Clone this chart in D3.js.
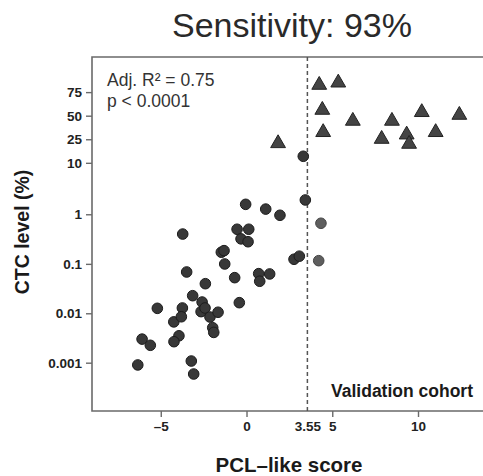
<!DOCTYPE html>
<html>
<head>
<meta charset="utf-8">
<script src="https://cdn.jsdelivr.net/npm/d3@7"></script>
<style>
  html, body { margin: 0; padding: 0; background: #fff; }
  svg { display: block; font-family: "Liberation Sans", Arial, Helvetica, sans-serif; }
</style>
</head>
<body>
<div id="chart"></div>
<script>
// PCL-like score vs CTC level (%), validation cohort
const cutoff = 3.55;

// Patients below the detection threshold (circles)
const circleScore = [-6.34, -6.09, -5.61, -5.20, -3.72, -3.49, -4.24, -3.74, -3.80, -3.94,
  -4.23, -3.22, -3.08, -3.14, -2.40, -2.59, -2.65, -2.42, -2.13, -1.66,
  -1.97, -1.91, -1.47, -1.31, -1.27, -0.69, -0.42, -0.05, -0.55, 0.13,
  -0.32, 0.09, 1.12, 1.95, 3.43, 2.77, 3.08, 0.71, 1.35, 0.77, 3.31];
const circleCTC = [0.0009, 0.003, 0.00225, 0.0126, 0.40, 0.0685, 0.0067, 0.0128, 0.0085, 0.0035,
  0.00266, 0.00108, 0.00059, 0.0227, 0.0397, 0.0169, 0.0108, 0.0128, 0.0084, 0.0105,
  0.0051, 0.0041, 0.172, 0.185, 0.0995, 0.0526, 0.0164, 1.58, 0.50, 0.50,
  0.32, 0.28, 1.27, 0.955, 1.93, 0.124, 0.143, 0.0634, 0.0625, 0.0445, 13.1];

// Circles scored above the cut-off (lighter)
const missScore = [4.34, 4.21];
const missCTC = [0.66, 0.116];

// Patients detected (triangles)
const triScore = [1.84, 4.24, 5.35, 4.42, 4.47, 6.20, 8.48, 7.88, 9.34, 9.48, 10.22, 11.03, 12.41];
const triCTC = [21.6, 80.7, 82.3, 56.6, 31.6, 43.9, 43.9, 25.2, 29.2, 21.1, 54.0, 31.6, 50.8];

const xTicks = [-5, 0, 3.55, 5, 10];
const xTickLabels = ["\u20135", "0", "3.55", "5", "10"];
const yTicks = [0.001, 0.01, 0.1, 1, 10, 25, 50, 75];
const yTickLabels = ["0.001", "0.01", "0.1", "1", "10", "25", "50", "75"];

const W = 483, H = 476;
const pLeft = 92, pRight = 483, pTop = 57, pBottom = 411;

// logit transform of a percentage
const logit = p => Math.log10((p / 100) / (1 - p / 100));

const x = d3.scaleLinear().domain([-9.01, 13.79]).range([pLeft, pRight]);
const yL = d3.scaleLinear().domain([-5.978, 1.188]).range([pBottom, pTop]);
const y = p => yL(logit(p));

const svg = d3.select("#chart").append("svg").attr("width", W).attr("height", H);

// frame: left, top, bottom
svg.append("path")
  .attr("d", `M${pRight},${pTop}H${pLeft}V${pBottom}H${pRight}`)
  .attr("fill", "none").attr("stroke", "#6a6a6a").attr("stroke-width", 1.6);

// axes
const xAxis = svg.append("g").attr("transform", `translate(0,${pBottom})`)
  .call(d3.axisBottom(x).tickValues(xTicks).tickSize(6).tickPadding(4)
    .tickFormat((d, i) => xTickLabels[i]));
const yAxis = svg.append("g").attr("transform", `translate(${pLeft},0)`)
  .call(d3.axisLeft(yL).tickValues(yTicks.map(logit)).tickSize(6).tickPadding(4)
    .tickFormat((d, i) => yTickLabels[i]));
[xAxis, yAxis].forEach(g => {
  g.select(".domain").remove();
  g.selectAll(".tick line").attr("stroke", "#6a6a6a").attr("stroke-width", 1.4);
  g.selectAll(".tick text").attr("fill", "#222").attr("font-size", 13.5)
    .attr("font-weight", "bold").attr("font-family", "Liberation Sans, Arial, sans-serif");
});
xAxis.selectAll(".tick").filter(d => d === 3.55).select("line").remove();

// cut-off line
svg.append("line")
  .attr("x1", x(cutoff)).attr("x2", x(cutoff))
  .attr("y1", pTop).attr("y2", pBottom)
  .attr("stroke", "#555").attr("stroke-width", 1.5)
  .attr("stroke-dasharray", "4,3");

// points
const tri = d3.symbol().type(d3.symbolTriangle).size(95);
svg.append("g").selectAll("path")
  .data(triScore.map((s, i) => [s, triCTC[i]]))
  .join("path")
  .attr("d", tri)
  .attr("transform", d => `translate(${x(d[0])},${y(d[1])})`)
  .attr("fill", "#444").attr("stroke", "#222").attr("stroke-width", 1);

svg.append("g").selectAll("circle")
  .data(circleScore.map((s, i) => [s, circleCTC[i]]))
  .join("circle")
  .attr("cx", d => x(d[0])).attr("cy", d => y(d[1])).attr("r", 5.3)
  .attr("fill", "#383838").attr("stroke", "#1c1c1c").attr("stroke-width", 1);

svg.append("g").selectAll("circle")
  .data(missScore.map((s, i) => [s, missCTC[i]]))
  .join("circle")
  .attr("cx", d => x(d[0])).attr("cy", d => y(d[1])).attr("r", 5.3)
  .attr("fill", "#5e5e5e").attr("stroke", "#444").attr("stroke-width", 1);

// text
svg.append("text").attr("x", 292).attr("y", 37).attr("text-anchor", "middle")
  .attr("font-size", 34).attr("fill", "#2a2a2a").text("Sensitivity: 93%");

svg.append("text").attr("x", 107).attr("y", 86).attr("font-size", 17.5).attr("fill", "#333")
  .text("Adj. R\u00B2 = 0.75");
svg.append("text").attr("x", 107).attr("y", 107).attr("font-size", 17.5).attr("fill", "#333")
  .text("p < 0.0001");

svg.append("text").attr("x", 473).attr("y", 397).attr("text-anchor", "end")
  .attr("font-size", 17.5).attr("font-weight", "bold").attr("fill", "#1a1a1a")
  .text("Validation cohort");

svg.append("text").attr("x", 289).attr("y", 472).attr("text-anchor", "middle")
  .attr("font-size", 20.5).attr("font-weight", "bold").attr("fill", "#1a1a1a")
  .text("PCL\u2013like score");

svg.append("text").attr("transform", "translate(29,232) rotate(-90)")
  .attr("text-anchor", "middle")
  .attr("font-size", 19.5).attr("font-weight", "bold").attr("fill", "#1a1a1a")
  .text("CTC level (%)");
</script>
</body>
</html>
